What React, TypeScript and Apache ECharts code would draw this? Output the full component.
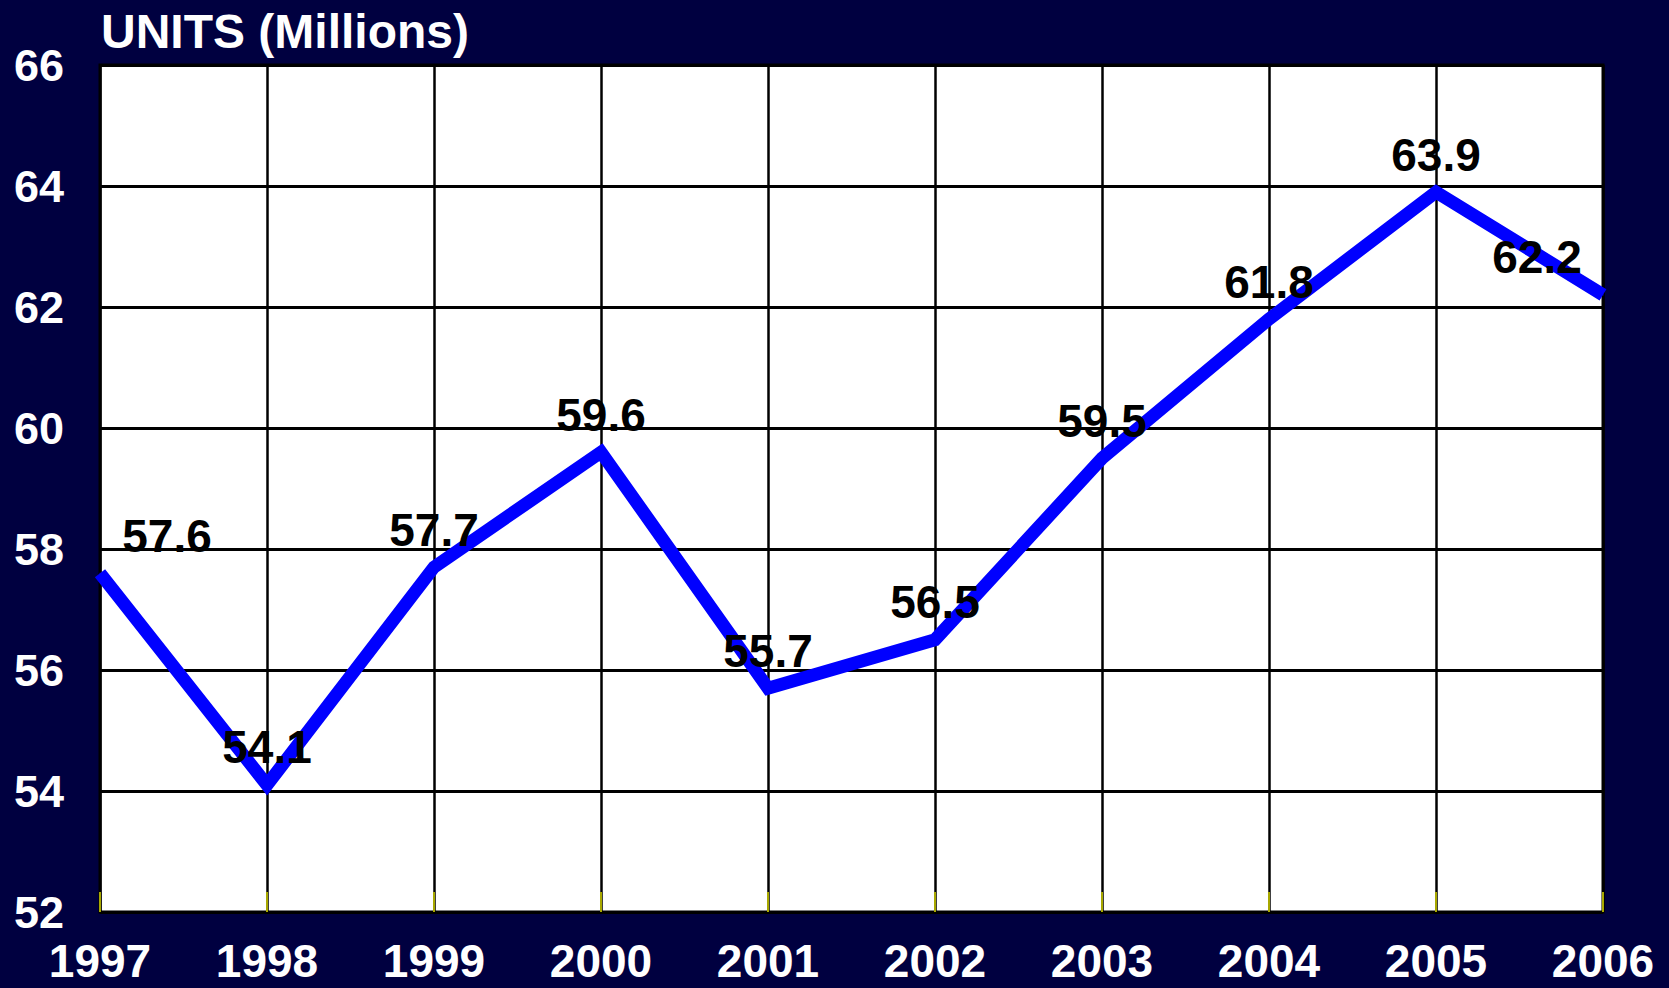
import React, { useEffect, useRef } from "react";
import * as echarts from "echarts";

const years = ["1997", "1998", "1999", "2000", "2001", "2002", "2003", "2004", "2005", "2006"];
const units = [57.6, 54.1, 57.7, 59.6, 55.7, 56.5, 59.5, 61.8, 63.9, 62.2];
const yTicks = { min: 52, max: 66, interval: 2 };
const titleText = "UNITS (Millions)";

const FONT = "'Liberation Sans', Arial, Helvetica, sans-serif";

export default function App() {
  const ref = useRef<HTMLDivElement>(null);
  useEffect(() => {
    document.body.style.margin = "0";
    const chart = echarts.init(ref.current!, null, { renderer: "svg" });
    const lastIdx = units.length - 1;
    chart.setOption({
      animation: false,
      backgroundColor: "#000040",
      title: {
        text: titleText,
        left: 96,
        top: 2,
        textStyle: { color: "#ffffff", fontSize: 48, fontWeight: "bold", fontFamily: FONT, lineHeight: 48 },
      },
      grid: {
        left: 100,
        right: 66,
        top: 65,
        bottom: 76,
        show: true,
        backgroundColor: "#ffffff",
        borderColor: "#000000",
        borderWidth: 3,
      },
      xAxis: {
        type: "category",
        data: years,
        boundaryGap: false,
        axisLine: { show: false },
        axisTick: { show: true, inside: true, length: 20, lineStyle: { color: "#a8a800", width: 2 } },
        axisLabel: {
          color: "#ffffff",
          fontSize: 46,
          lineHeight: 38,
          fontWeight: "bold",
          fontFamily: FONT,
          margin: 30,
          showMinLabel: true,
          showMaxLabel: true,
          interval: 0,
        },
        splitLine: { show: true, lineStyle: { color: "#000000", width: 2.5 } },
      },
      yAxis: {
        type: "value",
        min: yTicks.min,
        max: yTicks.max,
        interval: yTicks.interval,
        axisLine: { show: false },
        axisTick: { show: false },
        axisLabel: {
          color: "#ffffff",
          fontSize: 45,
          fontWeight: "bold",
          fontFamily: FONT,
          margin: 36,
        },
        splitLine: { show: true, lineStyle: { color: "#000000", width: 3 } },
      },
      series: [
        {
          type: "line",
          data: units.map((v, i) => ({
            value: v,
            label:
              i === 0
                ? { offset: [67, 0] }
                : i === lastIdx
                ? { offset: [-66, 0] }
                : {},
          })),
          symbol: "circle",
          symbolSize: 1,
          itemStyle: { color: "#0000ff" },
          lineStyle: { color: "#0000ff", width: 13, join: "miter", cap: "butt" },
          label: {
            show: true,
            position: "top",
            distance: 14,
            color: "#000000",
            fontSize: 46,
            fontWeight: "bold",
            fontFamily: FONT,
            formatter: (p: any) => Number(p.value).toFixed(1),
          },
          z: 3,
        },
      ],
    });
    return () => chart.dispose();
  }, []);
  return <div ref={ref} style={{ width: 1669, height: 988 }} />;
}
